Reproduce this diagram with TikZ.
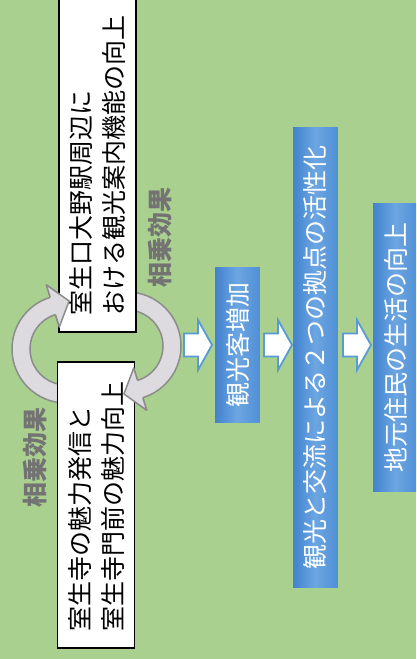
\documentclass[tikz,border=0pt]{standalone}
\usepackage{fontspec}
\newfontfamily\jp{Noto Sans CJK JP}
\usetikzlibrary{calc}
\definecolor{bggreen}{HTML}{A9D08E}
\definecolor{arcgray}{HTML}{DDDBE0}
\definecolor{arcline}{HTML}{8C8C8C}
\definecolor{blueL}{HTML}{4282CE}
\definecolor{blueM}{HTML}{6CA6E2}
\definecolor{blueR}{HTML}{5190D6}
\definecolor{arrowblue}{HTML}{5B9BD5}
\definecolor{labelgray}{HTML}{737373}
\newcommand{\cyclarrow}[3]{%
  \draw[arcarrow] ($(#1)+(#2:54)$) arc[start angle=#2, end angle=#3, radius=54]
    -- ($(#1)+(#3:67)$) -- ($(#1)+(#3:45)+(#3+90:17)$) -- ($(#1)+(#3:23)$)
    -- ($(#1)+(#3:36)$) arc[start angle=#3, end angle=#2, radius=36] -- cycle;}
\newcommand{\cyclhead}[2]{%
  \fill[arcgray] ($(#1)+(#2:67)$) -- ($(#1)+(#2:45)+(#2+90:17)$) -- ($(#1)+(#2:23)$) -- cycle;
  \draw[arcarrow, fill=none] ($(#1)+(#2:54)$) -- ($(#1)+(#2:67)$) -- ($(#1)+(#2:45)+(#2+90:17)$)
    -- ($(#1)+(#2:23)$) -- ($(#1)+(#2:36)$);}
\newcommand{\blkarrow}[1]{%
  \draw[blockarrow] (#1,333.5) -- (#1+14,333.5) -- (#1+14,320) -- (#1+28,345)
    -- (#1+14,370) -- (#1+14,356.5) -- (#1,356.5) -- cycle;}
\begin{document}
\begin{tikzpicture}[x=1pt,y=1pt,yscale=-1,
  font=\jp\fontsize{25}{33}\selectfont,
  whitebox/.style={draw=black, line width=1.5pt, fill=white, rotate=90, align=left,
    inner ysep=0pt, minimum height=77pt, text=black},
  bluebox/.style={draw=none, minimum width=45pt, inner sep=0pt},
  bluetext/.style={rotate=90, text=white, inner sep=0pt},
  synergy/.style={rotate=90, text=labelgray, font=\jp\bfseries\fontsize{25}{30}\selectfont},
  arcarrow/.style={fill=arcgray, draw=arcline, line width=1.5pt, line join=round},
  blockarrow/.style={fill=white, draw=arrowblue, line width=1.8pt, line join=miter}]
\useasboundingbox (0,0) rectangle (416,659);
\clip (0,0) rectangle (416,659);
\fill[bggreen] (0,0) rectangle (416,659);
\coordinate (lc) at (66,349);
\coordinate (rc) at (127,346);
\cyclarrow{lc}{90}{253}
\cyclarrow{rc}{270}{433}
\node[whitebox, minimum width=352pt, text width=318pt, inner xsep=17pt] (top) at (97.5,156)
  {室生口大野駅周辺に\\おける観光案内機能の向上};
\node[whitebox, minimum width=286pt, text width=252pt, inner xsep=17pt] (bot) at (96,505)
  {室生寺の魅力発信と\\室生寺門前の魅力向上};
\cyclhead{lc}{253}
\cyclhead{rc}{433}
\node[bluebox, minimum height=156pt] (b1) at (237.5,345) {};
\node[bluebox, minimum height=461pt] (b2) at (315.5,357.5) {};
\node[bluebox, minimum height=289pt] (b3) at (395.5,347.5) {};
\foreach \b in {b1,b2,b3}{
  \foreach \i in {0,...,44}{
    \ifnum\i<23
      \pgfmathtruncatemacro\pc{\i*100/22}
      \colorlet{stripc}{blueM!\pc!blueL}
    \else
      \pgfmathtruncatemacro\pc{(\i-22)*100/22}
      \colorlet{stripc}{blueR!\pc!blueM}
    \fi
    \fill[stripc] ($(\b.north west)+(\i,0)$) rectangle ($(\b.south west)+(\i+1.2,0)$);
  }
}
\node[bluetext] (t1) at (b1.center) {観光客増加};
\node[bluetext] (t2) at (b2.center) {観光と交流による２つの拠点の活性化};
\node[bluetext] (t3) at (b3.center) {地元住民の生活の向上};
\blkarrow{184}
\blkarrow{264}
\blkarrow{343}
\node[synergy] (s1) at (160,237) {相乗効果};
\node[synergy] (s2) at (35,457) {相乗効果};
\end{tikzpicture}
\end{document}
